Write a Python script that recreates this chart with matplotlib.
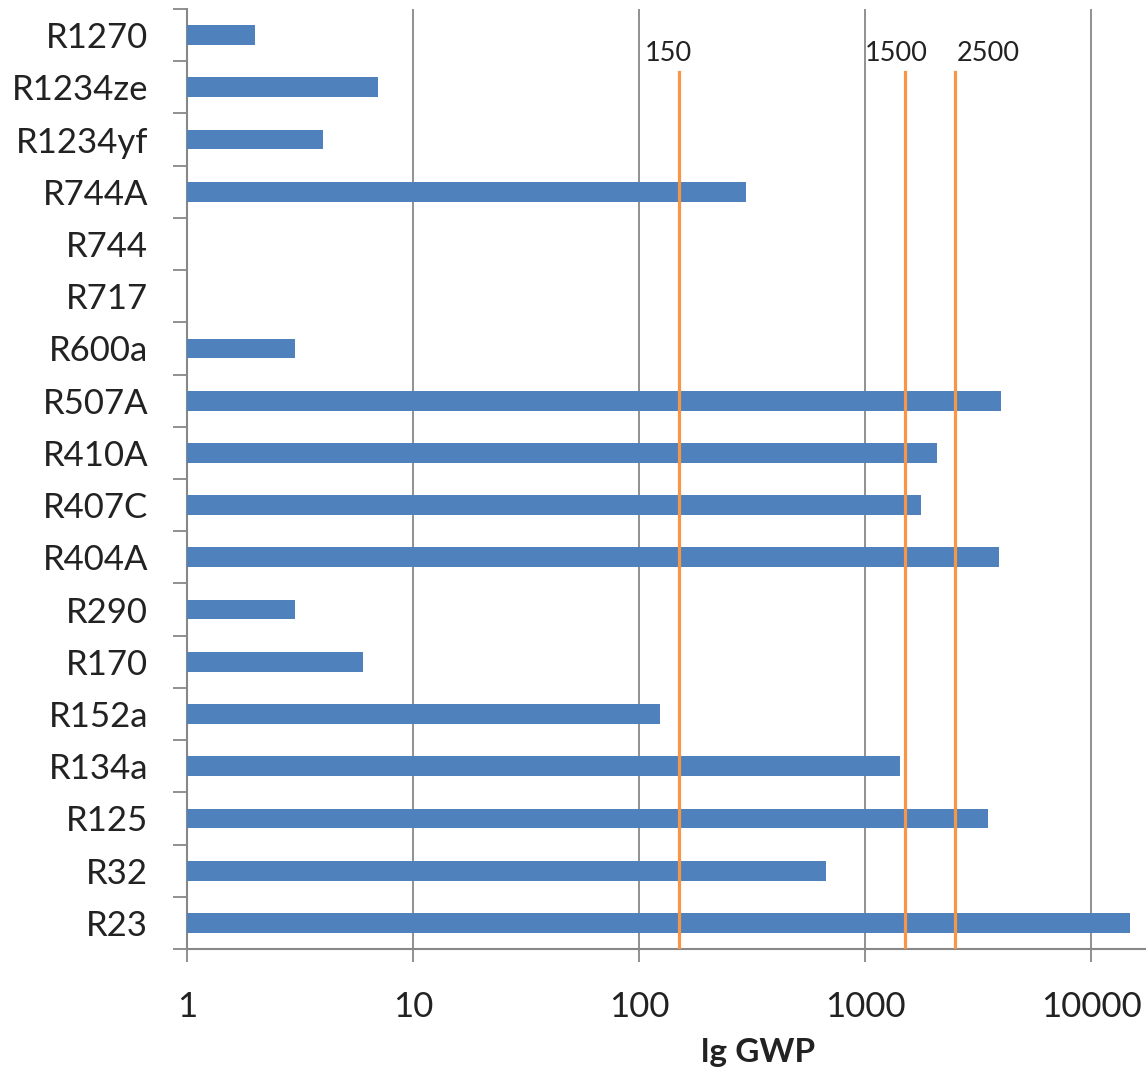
import matplotlib.pyplot as plt
from matplotlib.ticker import FixedLocator, NullLocator

plt.rcParams['font.family'] = ['Lato', 'DejaVu Sans']

# Refrigerants, listed bottom to top
refrigerants = ['R23', 'R32', 'R125', 'R134a', 'R152a', 'R170', 'R290', 'R404A',
                'R407C', 'R410A', 'R507A', 'R600a', 'R717', 'R744', 'R744A',
                'R1234yf', 'R1234ze', 'R1270']
gwp = [14800, 675, 3500, 1430, 124, 6, 3, 3922,
       1774, 2088, 3985, 3, 0, 1, 298,
       4, 7, 2]

# Reference thresholds
limits = [150, 1500, 2500]
limit_labels = ['150', '1500', '2500']
label_offsets = [-10, -9, 33]

bar_color = '#4F81BD'
line_color = '#F79646'
axis_color = '#888888'
text_color = '#222222'

fig = plt.figure(figsize=(11.46, 10.70), dpi=100)
ax = fig.add_axes([187 / 1146, 1 - 949 / 1070, 1 - 187 / 1146, 940 / 1070])

ypos = list(range(len(refrigerants)))
ax.barh(ypos, gwp, height=0.38, color=bar_color, zorder=3)

ax.set_xscale('log')
ax.set_xlim(1, 17500)
ax.set_ylim(-0.5, len(refrigerants) - 0.5)

# Threshold lines start a little below the top of the plot
for val, lab, off in zip(limits, limit_labels, label_offsets):
    ax.axvline(val, ymin=0, ymax=1 - 63 / 940, color=line_color, lw=2.3, zorder=4)
    ax.annotate(lab, xy=(val, 1 - 63 / 940), xycoords=('data', 'axes fraction'),
                xytext=(off, 6), textcoords='offset pixels',
                ha='center', va='bottom', fontsize=19.5, color=text_color)

# Decade gridlines
ax.xaxis.set_major_locator(FixedLocator([1, 10, 100, 1000, 10000]))
ax.xaxis.set_minor_locator(NullLocator())
ax.set_xticklabels(['1', '10', '100', '1000', '10000'])
ax.grid(axis='x', color=axis_color, lw=1.3, zorder=0)

# Category labels centred on bars, tick marks between categories
ax.set_yticks(ypos)
ax.set_yticklabels(refrigerants)
ax.set_yticks([y - 0.5 for y in ypos] + [len(refrigerants) - 0.5], minor=True)
ax.tick_params(axis='y', which='major', length=0, pad=28, labelsize=25, labelcolor=text_color)
ax.tick_params(axis='y', which='minor', length=10, width=1.3, color=axis_color)
ax.tick_params(axis='x', which='major', length=9, width=1.3, color=axis_color,
               pad=21, labelsize=25, labelcolor=text_color)

for side in ['top', 'right']:
    ax.spines[side].set_visible(False)
for side in ['left', 'bottom']:
    ax.spines[side].set_color(axis_color)
    ax.spines[side].set_linewidth(1.5)

ax.set_xlabel('lg GWP', fontsize=24, fontweight='bold', color=text_color)
ax.xaxis.set_label_coords((758 - 187) / 959, -0.095)

fig.savefig('out.png', dpi=100)
